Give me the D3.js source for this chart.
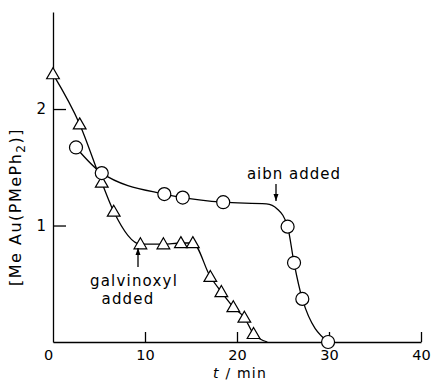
<!DOCTYPE html>
<html>
<head>
<meta charset="utf-8">
<script src="https://cdn.jsdelivr.net/npm/d3@7"></script>
<style>
  html, body { margin: 0; padding: 0; background: #fff; }
  svg text { font-family: 'DejaVu Sans', Arial, sans-serif; fill: #000; }
</style>
</head>
<body>
<div id="chart"></div>
<script>
// galvinoxyl run (triangles)
const triTimes  = [0, 2.9, 5.3, 6.6, 9.5, 12.0, 13.9, 15.2, 17.1, 18.3, 19.6, 20.8, 21.8];
const triValues = [2.30, 1.87, 1.37, 1.12, 0.84, 0.84, 0.85, 0.85, 0.56, 0.43, 0.30, 0.21, 0.07];
// where the drawn curve runs on past the last triangle
const triTail = [[23.3, 0]];

// aibn run (circles)
const circTimes  = [2.5, 5.3, 12.1, 14.1, 18.5, 25.5, 26.2, 27.1, 29.9];
const circValues = [1.67, 1.45, 1.27, 1.24, 1.20, 0.99, 0.68, 0.37, 0.0];
// extra knots of the hand-drawn curve (no marker)
const circKnots = [[23.2, 1.185], [24.4, 1.14]];

const xTicks = [0, 10, 20, 30, 40];
const yTicks = [1, 2];

const W = 431, H = 382;
const svg = d3.select('#chart').append('svg')
  .attr('width', W).attr('height', H);

const x = d3.scaleLinear().domain([0, 40]).range([53, 421]);
const y = d3.scaleLinear().domain([0, 2.833]).range([342, 12]);

// axes
const yAxis = d3.axisLeft(y).tickValues(yTicks).tickSizeInner(-13).tickSizeOuter(0)
  .tickPadding(7).tickFormat(d3.format('d'));
const gy = svg.append('g').attr('transform', `translate(${x(0)},0)`).call(yAxis);

const xAxis = d3.axisBottom(x).tickValues(xTicks).tickSizeInner(-10).tickSizeOuter(0)
  .tickPadding(8).tickFormat(d3.format('d'));
const gx = svg.append('g').attr('transform', `translate(0,${y(0)})`).call(xAxis);

[gx, gy].forEach(g => {
  g.selectAll('path, line').attr('stroke', '#000').attr('stroke-width', 1.3);
  g.selectAll('text').style('font-size', '15px').attr('fill', '#000');
});
gx.selectAll('text').style('font-size', '14.5px');
gx.selectAll('.tick').filter(d => d === 0).select('line').remove();
gx.selectAll('.tick').filter(d => d === 0).select('text').attr('dx', -5);

// curves
const line = d3.line().x(d => x(d[0])).y(d => y(d[1])).curve(d3.curveMonotoneX);

const triPts = triTimes.map((t, i) => [t, triValues[i]]);
const circPts = circTimes.map((t, i) => [t, circValues[i]]);

svg.append('path')
  .datum(triPts.concat(triTail))
  .attr('d', line).attr('fill', 'none').attr('stroke', '#000').attr('stroke-width', 1.3);

svg.append('path')
  .datum(circPts.concat(circKnots).sort((a, b) => a[0] - b[0]))
  .attr('d', line).attr('fill', 'none').attr('stroke', '#000').attr('stroke-width', 1.3);

// markers
const tri = d3.symbol().type(d3.symbolTriangle).size(70);
svg.selectAll('path.tri').data(triPts).enter().append('path')
  .attr('class', 'tri')
  .attr('d', tri)
  .attr('transform', d => `translate(${x(d[0])},${y(d[1]) + 1})`)
  .attr('fill', '#fff').attr('stroke', '#000').attr('stroke-width', 1.2);

svg.selectAll('circle.pt').data(circPts).enter().append('circle')
  .attr('class', 'pt')
  .attr('cx', d => x(d[0])).attr('cy', d => y(d[1])).attr('r', 6.5)
  .attr('fill', '#fff').attr('stroke', '#000').attr('stroke-width', 1.2);

// annotations
function arrow(x0, y0, y1) {
  const dir = Math.sign(y1 - y0);
  svg.append('line').attr('x1', x0).attr('x2', x0).attr('y1', y0).attr('y2', y1)
    .attr('stroke', '#000').attr('stroke-width', 1.3);
  svg.append('path')
    .attr('d', `M${x0 - 2.5},${y1 - dir * 7}L${x0},${y1}L${x0 + 2.5},${y1 - dir * 7}Z`)
    .attr('fill', '#000');
}

svg.append('text').attr('x', 294).attr('y', 179).attr('text-anchor', 'middle')
  .style('font-size', '15px').style('letter-spacing', '1px').text('aibn  added');
arrow(276, 184, 201);

svg.append('text').attr('x', 134).attr('y', 286).attr('text-anchor', 'middle')
  .style('font-size', '15px').style('letter-spacing', '1.2px').text('galvinoxyl');
svg.append('text').attr('x', 128).attr('y', 304).attr('text-anchor', 'middle')
  .style('font-size', '15px').style('letter-spacing', '1.2px').text('added');
arrow(138, 267, 248);

// axis titles
const yl = svg.append('text')
  .attr('transform', 'translate(21,207) rotate(-90)')
  .attr('text-anchor', 'middle')
  .style('font-size', '16px').style('letter-spacing', '1.5px');
yl.append('tspan').text('[Me Au(PMePh');
yl.append('tspan').attr('dy', 4).style('font-size', '12px').text('2');
yl.append('tspan').attr('dy', -4).text(')]');

const xl = svg.append('text').attr('x', 240).attr('y', 378).attr('text-anchor', 'middle')
  .style('font-size', '14px').style('letter-spacing', '1.2px');
xl.append('tspan').style('font-style', 'italic').text('t');
xl.append('tspan').text(' / min');
</script>
</body>
</html>
